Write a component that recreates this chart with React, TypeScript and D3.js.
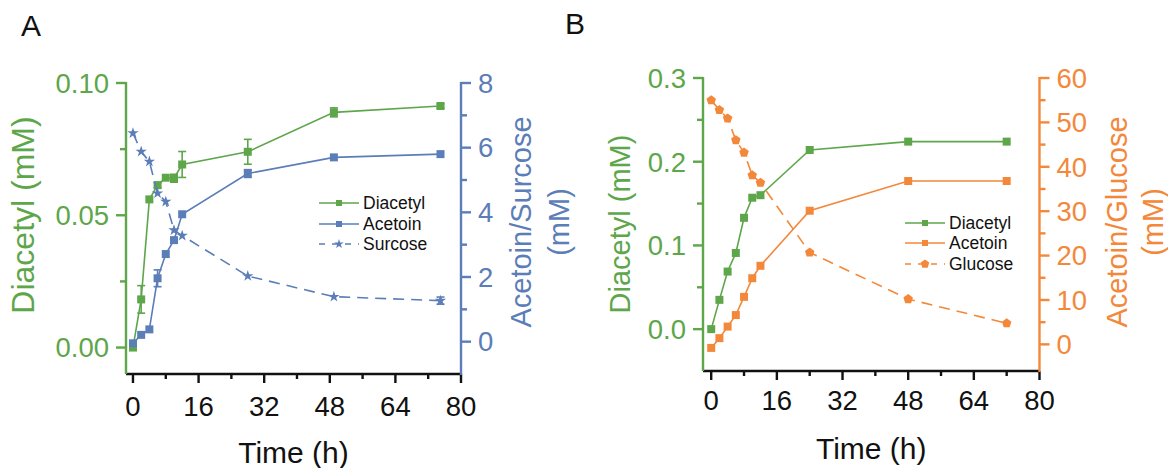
import React from "react";
import * as d3 from "d3";

// panel A: sucrose medium
const timesA = [0, 2, 4, 6, 8, 10, 12, 28, 49, 75];
const diacetylA = [0, 0.0182, 0.056, 0.0614, 0.0642, 0.064, 0.0692, 0.074, 0.0889, 0.0913];
const diacetylAErr = [0, 0.0052, 0, 0.001, 0, 0.0015, 0.0049, 0.0047, 0.0017, 0.0008];
const acetoinA = [-0.05, 0.21, 0.38, 1.96, 2.71, 3.14, 3.94, 5.2, 5.7, 5.8];
const acetoinAErr = [0, 0, 0, 0.26, 0, 0, 0, 0.12, 0, 0];
const surcoseA = [6.45, 5.88, 5.57, 4.59, 4.33, 3.45, 3.28, 2.03, 1.39, 1.27];
const surcoseAErr = [0, 0, 0, 0, 0, 0, 0, 0, 0, 0.11];

// panel B: glucose medium
const timesB = [0, 2, 4, 6, 8, 10, 12, 24, 48, 72];
const diacetylB = [0, 0.035, 0.0688, 0.091, 0.133, 0.157, 0.16, 0.214, 0.224, 0.224];
const acetoinB = [-0.8, 1.4, 4.0, 6.6, 10.7, 14.9, 17.7, 30.1, 36.8, 36.8];
const glucoseB = [55.0, 52.8, 50.9, 46.0, 43.2, 38.1, 36.4, 20.7, 10.2, 4.75];

const xMajor = [0, 16, 32, 48, 64, 80];
const xMinor = [8, 24, 40, 56, 72];
const yLeftMajorA = [0, 0.05, 0.1];
const yLeftMinorA = [0.025, 0.075];
const yRightMajorA = [0, 2, 4, 6, 8];
const yRightMinorA = [1, 3, 5, 7];
const yLeftMajorB = [0, 0.1, 0.2, 0.3];
const yLeftMinorB = [0.05, 0.15, 0.25];
const yRightMajorB = [0, 10, 20, 30, 40, 50, 60];
const yRightMinorB = [5, 15, 25, 35, 45, 55];

const GREEN = "#5da64a";
const BLUE = "#5b7db8";
const ORANGE = "#f4883a";
const FONT = "Arial, 'Liberation Sans', Helvetica, sans-serif";

const squarePath = (s: number) => d3.symbol(d3.symbolSquare, s)()!;
const starPath = (s: number) => d3.symbol(d3.symbolStar, s)()!;
const pentagonPath = (r: number) => {
  const pts = d3.range(5).map((i) => {
    const a = -Math.PI / 2 + (i * 2 * Math.PI) / 5;
    return [r * Math.cos(a), r * Math.sin(a)];
  });
  return "M" + pts.map((p) => p.join(",")).join("L") + "Z";
};

type Series = {
  name: string;
  t: number[];
  v: number[];
  err?: number[];
  color: string;
  side: "L" | "R";
  dashed?: boolean;
  marker: (big: boolean) => string;
};

type PanelCfg = {
  letter: string;
  letterX: number;
  letterY: number;
  left: number;
  right: number;
  top: number;
  bottom: number;
  xDomain: [number, number];
  yLDomain: [number, number];
  yRDomain: [number, number];
  yLMajor: number[];
  yLMinor: number[];
  yRMajor: number[];
  yRMinor: number[];
  yLFormat: (v: number) => string;
  yLTitle: string;
  yLTitleX: number;
  yLTitleY: number;
  yLTitleSize: number;
  yRTitle: [string, string];
  yRTitleX: [number, number];
  yRTitleY: number;
  xTickBaseline: number;
  xTitleBaseline: number;
  leftColor: string;
  rightColor: string;
  series: Series[];
  legendX: number;
  legendY: number[];
};

function Panel({ c }: { c: PanelCfg }) {
  const x = d3.scaleLinear().domain(c.xDomain).range([c.left, c.right]);
  const yL = d3.scaleLinear().domain(c.yLDomain).range([c.bottom, c.top]);
  const yR = d3.scaleLinear().domain(c.yRDomain).range([c.bottom, c.top]);
  const line = (s: Series) =>
    d3
      .line<number>()
      .x((_, i) => x(s.t[i]))
      .y((d) => (s.side === "L" ? yL(d) : yR(d)))(s.v)!;
  const sw = 2.4;
  const tickFont = 27.5;
  return (
    <g fontFamily={FONT}>
      <text x={c.letterX} y={c.letterY} fontSize={30} fill="#111">
        {c.letter}
      </text>

      {/* data */}
      {c.series.map((s) => {
        const ys = s.side === "L" ? yL : yR;
        return (
          <g key={s.name}>
            <path
              d={line(s)}
              fill="none"
              stroke={s.color}
              strokeWidth={1.6}
              strokeDasharray={s.dashed ? "11,7" : undefined}
            />
            {s.err &&
              s.v.map((d, i) =>
                s.err![i] > 0 ? (
                  <g key={i} stroke={s.color} strokeWidth={1.6}>
                    <line x1={x(s.t[i])} x2={x(s.t[i])} y1={ys(d - s.err![i])} y2={ys(d + s.err![i])} />
                    <line x1={x(s.t[i]) - 4} x2={x(s.t[i]) + 4} y1={ys(d - s.err![i])} y2={ys(d - s.err![i])} />
                    <line x1={x(s.t[i]) - 4} x2={x(s.t[i]) + 4} y1={ys(d + s.err![i])} y2={ys(d + s.err![i])} />
                  </g>
                ) : null
              )}
            {s.v.map((d, i) => (
              <path key={i} d={s.marker(true)} transform={`translate(${x(s.t[i])},${ys(d)})`} fill={s.color} />
            ))}
          </g>
        );
      })}

      {/* x axis */}
      <line x1={c.left} x2={c.right} y1={c.bottom} y2={c.bottom} stroke="#111" strokeWidth={sw} />
      {xMajor.map((t) => (
        <g key={t}>
          <line x1={x(t)} x2={x(t)} y1={c.bottom} y2={c.bottom + 9} stroke="#111" strokeWidth={sw} />
          <text x={x(t)} y={c.xTickBaseline} fontSize={tickFont} textAnchor="middle" fill="#111">
            {t}
          </text>
        </g>
      ))}
      {xMinor.map((t) => (
        <line key={t} x1={x(t)} x2={x(t)} y1={c.bottom} y2={c.bottom + 5} stroke="#111" strokeWidth={sw} />
      ))}
      <text x={(c.left + c.right) / 2} y={c.xTitleBaseline} fontSize={30} textAnchor="middle" fill="#111">
        Time (h)
      </text>

      {/* left axis */}
      <line x1={c.left} x2={c.left} y1={c.top - 1} y2={c.bottom} stroke={c.leftColor} strokeWidth={sw} />
      {c.yLMajor.map((v) => (
        <g key={v}>
          <line x1={c.left - 10} x2={c.left} y1={yL(v)} y2={yL(v)} stroke={c.leftColor} strokeWidth={sw} />
          <text x={c.left - 17} y={yL(v) + 9.8} fontSize={tickFont} textAnchor="end" fill={c.leftColor}>
            {c.yLFormat(v)}
          </text>
        </g>
      ))}
      {c.yLMinor.map((v) => (
        <line key={v} x1={c.left - 6} x2={c.left} y1={yL(v)} y2={yL(v)} stroke={c.leftColor} strokeWidth={sw} />
      ))}
      <text
        transform={`translate(${c.yLTitleX},${c.yLTitleY}) rotate(-90)`}
        fontSize={c.yLTitleSize}
        textAnchor="middle"
        fill={c.leftColor}
      >
        {c.yLTitle}
      </text>

      {/* right axis */}
      <line x1={c.right} x2={c.right} y1={c.top - 1} y2={c.bottom + 1} stroke={c.rightColor} strokeWidth={sw} />
      {c.yRMajor.map((v) => (
        <g key={v}>
          <line x1={c.right} x2={c.right + 10} y1={yR(v)} y2={yR(v)} stroke={c.rightColor} strokeWidth={sw} />
          <text x={c.right + 17} y={yR(v) + 9.8} fontSize={tickFont} textAnchor="start" fill={c.rightColor}>
            {v}
          </text>
        </g>
      ))}
      {c.yRMinor.map((v) => (
        <line key={v} x1={c.right} x2={c.right + 6} y1={yR(v)} y2={yR(v)} stroke={c.rightColor} strokeWidth={sw} />
      ))}
      {c.yRTitle.map((t, i) => (
        <text
          key={t}
          transform={`translate(${c.yRTitleX[i]},${c.yRTitleY}) rotate(-90)`}
          fontSize={29}
          textAnchor="middle"
          fill={c.rightColor}
        >
          {t}
        </text>
      ))}

      {/* legend */}
      {c.series.map((s, i) => (
        <g key={s.name} transform={`translate(${c.legendX},${c.legendY[i]})`}>
          <line
            x1={0}
            x2={40}
            y1={0}
            y2={0}
            stroke={s.color}
            strokeWidth={1.6}
            strokeDasharray={s.dashed ? "6,7" : undefined}
          />
          <path d={s.marker(false)} transform="translate(20,0)" fill={s.color} />
          <text x={44} y={6} fontSize={17.5} fill="#111">
            {s.name}
          </text>
        </g>
      ))}
    </g>
  );
}

const panelA: PanelCfg = {
  letter: "A",
  letterX: 21,
  letterY: 36,
  left: 126,
  right: 461,
  top: 83,
  bottom: 374,
  xDomain: [-1.7, 80],
  yLDomain: [-0.01, 0.1],
  yRDomain: [-1, 8],
  yLMajor: yLeftMajorA,
  yLMinor: yLeftMinorA,
  yRMajor: yRightMajorA,
  yRMinor: yRightMinorA,
  yLFormat: d3.format(".2f"),
  yLTitle: "Diacetyl (mM)",
  yLTitleX: 34,
  yLTitleY: 215,
  yLTitleSize: 32,
  yRTitle: ["Acetoin/Surcose", "(mM)"],
  yRTitleX: [531, 569],
  yRTitleY: 222,
  xTickBaseline: 416,
  xTitleBaseline: 463,
  leftColor: GREEN,
  rightColor: BLUE,
  series: [
    { name: "Diacetyl", t: timesA, v: diacetylA, err: diacetylAErr, color: GREEN, side: "L", marker: (b) => squarePath(b ? 64 : 36) },
    { name: "Acetoin", t: timesA, v: acetoinA, err: acetoinAErr, color: BLUE, side: "R", marker: (b) => squarePath(b ? 64 : 36) },
    { name: "Surcose", t: timesA, v: surcoseA, err: surcoseAErr, color: BLUE, side: "R", dashed: true, marker: (b) => starPath(b ? 40 : 28) },
  ],
  legendX: 319,
  legendY: [203, 224, 244],
};

const panelB: PanelCfg = {
  letter: "B",
  letterX: 565,
  letterY: 34,
  left: 703,
  right: 1039.5,
  top: 78,
  bottom: 371,
  xDomain: [-2, 80],
  yLDomain: [-0.05, 0.3],
  yRDomain: [-6, 60],
  yLMajor: yLeftMajorB,
  yLMinor: yLeftMinorB,
  yRMajor: yRightMajorB,
  yRMinor: yRightMinorB,
  yLFormat: d3.format(".1f"),
  yLTitle: "Diacetyl (mM)",
  yLTitleX: 630,
  yLTitleY: 224,
  yLTitleSize: 29,
  yRTitle: ["Acetoin/Glucose", "(mM)"],
  yRTitleX: [1127, 1163],
  yRTitleY: 222,
  xTickBaseline: 410,
  xTitleBaseline: 459,
  leftColor: GREEN,
  rightColor: ORANGE,
  series: [
    { name: "Diacetyl", t: timesB, v: diacetylB, color: GREEN, side: "L", marker: (b) => squarePath(b ? 64 : 36) },
    { name: "Acetoin", t: timesB, v: acetoinB, color: ORANGE, side: "R", marker: (b) => squarePath(b ? 64 : 36) },
    { name: "Glucose", t: timesB, v: glucoseB, color: ORANGE, side: "R", dashed: true, marker: (b) => pentagonPath(b ? 5 : 4.5) },
  ],
  legendX: 905,
  legendY: [223, 243, 264],
};

export default function App() {
  return (
    <svg
      width={1168}
      height={468}
      style={{ position: "absolute", left: 0, top: 0, background: "#fff" }}
    >
      <rect width={1168} height={468} fill="#fff" />
      <Panel c={panelA} />
      <Panel c={panelB} />
    </svg>
  );
}
